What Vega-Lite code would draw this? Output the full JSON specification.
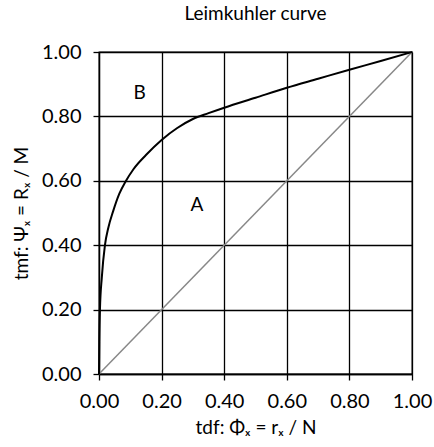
{
  "$schema": "https://vega.github.io/schema/vega-lite/v6.json",
  "autosize": "none",
  "width": 313,
  "height": 322,
  "padding": {"left": 99, "top": 52, "right": 22, "bottom": 73},
  "background": "white",
  "title": {"text": "Leimkuhler curve", "font": "Lato", "fontSize": 19, "fontWeight": "normal", "color": "#000", "offset": 18},
  "config": {
    "view": {"stroke": "#000", "strokeWidth": 1.3},
    "axis": {
      "labelFont": "Lato", "labelFontSize": 20, "labelColor": "#000", "labelFlush": false,
      "titleFont": "Lato", "titleFontSize": 19, "titleFontWeight": "normal", "titleColor": "#000",
      "gridColor": "#000", "gridWidth": 1.3, "gridOpacity": 1,
      "domainColor": "#000", "domainWidth": 1.3, "tickColor": "#000", "tickWidth": 1.3, "tickSize": 6
    }
  },
  "datasets": {
    "curve": [
      {"phi": 0, "psi": 0}, {"phi": 0.001, "psi": 0.1}, {"phi": 0.003, "psi": 0.2},
      {"phi": 0.009, "psi": 0.3}, {"phi": 0.019, "psi": 0.4}, {"phi": 0.03, "psi": 0.455},
      {"phi": 0.045, "psi": 0.505}, {"phi": 0.065, "psi": 0.56},
      {"phi": 0.085, "psi": 0.598}, {"phi": 0.11, "psi": 0.636}, {"phi": 0.15, "psi": 0.68}, {"phi": 0.2, "psi": 0.727},
      {"phi": 0.25, "psi": 0.764}, {"phi": 0.3, "psi": 0.792}, {"phi": 0.35, "psi": 0.81},
      {"phi": 0.4, "psi": 0.827}, {"phi": 0.5, "psi": 0.858}, {"phi": 0.6, "psi": 0.889},
      {"phi": 0.7, "psi": 0.917}, {"phi": 0.8, "psi": 0.945}, {"phi": 0.9, "psi": 0.972},
      {"phi": 1, "psi": 1}
    ],
    "diag": [{"phi": 0, "psi": 0}, {"phi": 1, "psi": 1}],
    "labels": [{"phi": 0.13, "psi": 0.873, "t": "B"}, {"phi": 0.313, "psi": 0.525, "t": "A"}]
  },
  "layer": [
    {
      "data": {"name": "diag"},
      "mark": {"type": "line", "color": "#888", "strokeWidth": 1.5},
      "encoding": {
        "x": {"field": "phi", "type": "quantitative", "scale": {"domain": [0, 1], "nice": false},
              "axis": {"values": [0, 0.2, 0.4, 0.6, 0.8, 1], "format": ".2f", "title": "tdf: Φₓ = rₓ / N", "labelPadding": 11, "titlePadding": 7}},
        "y": {"field": "psi", "type": "quantitative", "scale": {"domain": [0, 1], "nice": false},
              "axis": {"values": [0, 0.2, 0.4, 0.6, 0.8, 1], "format": ".2f", "title": "tmf: Ψₓ = Rₓ / M", "labelPadding": 12, "titlePadding": 10}}
      }
    },
    {
      "data": {"name": "curve"},
      "mark": {"type": "line", "color": "#000", "strokeWidth": 2, "interpolate": "monotone"},
      "encoding": {
        "x": {"field": "phi", "type": "quantitative"},
        "y": {"field": "psi", "type": "quantitative"}
      }
    },
    {
      "data": {"name": "labels"},
      "mark": {"type": "text", "font": "Lato", "fontSize": 19, "color": "#000"},
      "encoding": {
        "x": {"field": "phi", "type": "quantitative"},
        "y": {"field": "psi", "type": "quantitative"},
        "text": {"field": "t"}
      }
    }
  ]
}
